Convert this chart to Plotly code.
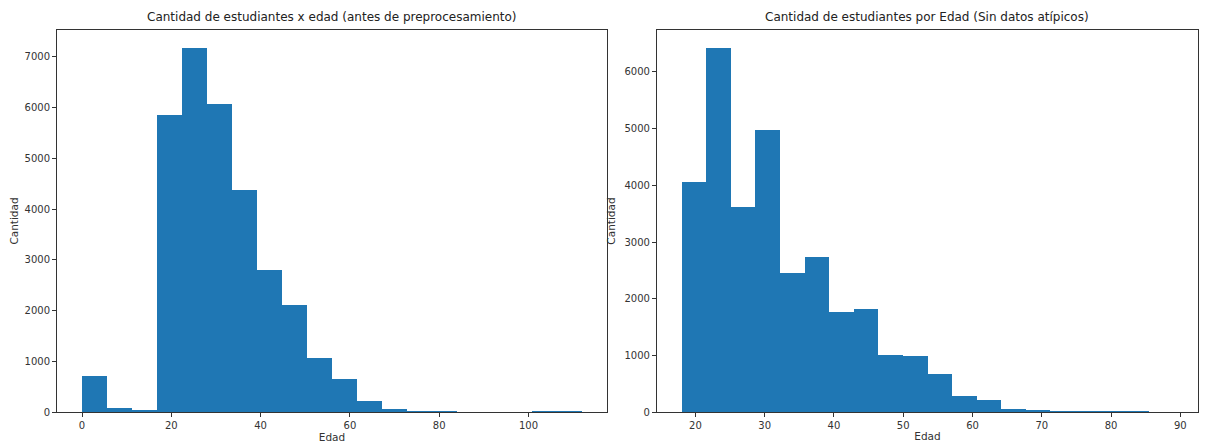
import plotly.graph_objects as go

# Left histogram: ages before preprocessing (20 bins, 0 - 112)
left_edges = [0.0, 5.6, 11.2, 16.8, 22.4, 28.0, 33.6, 39.2, 44.8, 50.4, 56.0,
              61.6, 67.2, 72.8, 78.4, 84.0, 89.6, 95.2, 100.8, 106.4, 112.0]
left_counts = [700, 70, 20, 5850, 7170, 6080, 4370, 2790, 2110, 1070, 650,
               220, 50, 15, 15, 0, 0, 0, 10, 10]

# Right histogram: ages without outliers (20 bins, 18 - 89)
right_edges = [18.0, 21.55, 25.1, 28.65, 32.2, 35.75, 39.3, 42.85, 46.4, 49.95, 53.5,
               57.05, 60.6, 64.15, 67.7, 71.25, 74.8, 78.35, 81.9, 85.45, 89.0]
right_counts = [4050, 6420, 3620, 4980, 2460, 2740, 1770, 1820, 1010, 980, 670,
                290, 220, 60, 40, 10, 10, 8, 6, 0]

left_ticks = [0, 20, 40, 60, 80, 100]
left_yticks = [0, 1000, 2000, 3000, 4000, 5000, 6000, 7000]
right_ticks = [20, 30, 40, 50, 60, 70, 80, 90]
right_yticks = [0, 1000, 2000, 3000, 4000, 5000, 6000]

titles = ["Cantidad de estudiantes x edad (antes de preprocesamiento)",
          "Cantidad de estudiantes por Edad (Sin datos atípicos)"]

BLUE = "#1f77b4"
FONT = "DejaVu Sans"


def centers(edges):
    return [(a + b) / 2 for a, b in zip(edges[:-1], edges[1:])]


def widths(edges):
    return [b - a for a, b in zip(edges[:-1], edges[1:])]


fig = go.Figure()
fig.add_trace(go.Bar(x=centers(left_edges), y=left_counts, width=widths(left_edges),
                     marker=dict(color=BLUE, line=dict(width=0)),
                     xaxis="x", yaxis="y", showlegend=False))
fig.add_trace(go.Bar(x=centers(right_edges), y=right_counts, width=widths(right_edges),
                     marker=dict(color=BLUE, line=dict(width=0)),
                     xaxis="x2", yaxis="y2", showlegend=False))


def pad(lo, hi, frac=0.05):
    d = (hi - lo) * frac
    return [lo - d, hi + d]


axis_common = dict(showline=True, linecolor="#333333", linewidth=1, mirror=True,
                   ticks="outside", ticklen=4, tickcolor="#333333", showgrid=False,
                   zeroline=False, tickfont=dict(family=FONT, size=10, color="#333333"),
                   title_font=dict(family=FONT, size=10.5, color="#333333"))

# page has an 8px body margin: figure occupies page x 8..1202, y 8..443
OFF = 8
W, H = 1210 - 2 * OFF, 443 - OFF
ml, mr, mt, mb = 56 - OFF, 3, 30 - OFF, 30
pw = W - ml - mr
left_end = (607 - 56) / pw
right_start = (657 - 56) / pw

fig.update_layout(
    width=W, height=H,
    margin=dict(l=ml, r=mr, t=mt, b=mb),
    paper_bgcolor="white", plot_bgcolor="white",
    bargap=0,
    font=dict(family=FONT, size=10, color="#333333"),
    xaxis=dict(domain=[0, left_end], range=pad(left_edges[0], left_edges[-1]),
               tickvals=left_ticks, title=dict(text="Edad", standoff=2), anchor="y",
               **axis_common),
    yaxis=dict(domain=[0, 1], range=[0, max(left_counts) * 1.05], tickvals=left_yticks,
               title=dict(text="Cantidad", standoff=6), anchor="x", **axis_common),
    xaxis2=dict(domain=[right_start, 1], range=pad(right_edges[0], right_edges[-1]),
                tickvals=right_ticks, title=dict(text="Edad", standoff=2), anchor="y2",
                **axis_common),
    yaxis2=dict(domain=[0, 1], range=[0, max(right_counts) * 1.05], tickvals=right_yticks,
                title=dict(text="Cantidad", standoff=6), anchor="x2", **axis_common),
    annotations=[
        dict(text=titles[0], xref="paper", yref="paper", x=left_end / 2, y=1,
             yshift=4, xanchor="center", yanchor="bottom", showarrow=False,
             font=dict(family=FONT, size=12, color="#222222")),
        dict(text=titles[1], xref="paper", yref="paper",
             x=(right_start + 1) / 2, y=1, yshift=4, xanchor="center",
             yanchor="bottom", showarrow=False,
             font=dict(family=FONT, size=12, color="#222222")),
    ],
)

fig.write_html("out.html")
